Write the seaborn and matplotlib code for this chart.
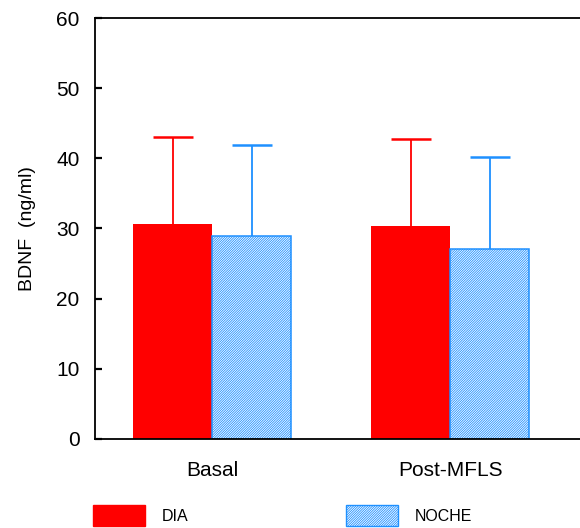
import pandas as pd
import seaborn as sns
import matplotlib.pyplot as plt
from matplotlib.patches import Patch

# datos
condiciones = ['Basal', 'Post-MFLS']
grupos = ['DIA', 'NOCHE']
media_dia = [30.7, 30.3]
media_noche = [29.0, 27.1]
de_dia = [12.4, 12.45]
de_noche = [12.9, 13.1]

rojo = '#FF0000'
azul = '#1E90FF'
trama = '/' * 14

df = pd.DataFrame({
    'condicion': condiciones * 2,
    'grupo': [grupos[0]] * 2 + [grupos[1]] * 2,
    'bdnf': media_dia + media_noche,
})

sns.set_style('white')
plt.rcParams['font.family'] = ['Liberation Sans', 'DejaVu Sans']
plt.rcParams['text.color'] = 'black'
plt.rcParams['axes.labelcolor'] = 'black'
plt.rcParams['xtick.color'] = 'black'
plt.rcParams['ytick.color'] = 'black'
plt.rcParams['hatch.color'] = azul
plt.rcParams['hatch.linewidth'] = 0.6

fig = plt.figure(figsize=(5.8, 5.28), dpi=100)
ax = fig.add_axes([0.1638, 0.1686, 0.8362, 0.7973])

sns.barplot(data=df, x='condicion', y='bdnf', hue='grupo', order=condiciones,
            hue_order=grupos, palette=[rojo, 'white'], width=0.664,
            saturation=1, errorbar=None, legend=False, ax=ax)

# barras: primero DIA, luego NOCHE
barras = ax.patches
for b in barras[:2]:
    b.set_edgecolor(rojo)
    b.set_linewidth(0)
for b in barras[2:4]:
    b.set_facecolor('white')
    b.set_edgecolor(azul)
    b.set_hatch(trama)
    b.set_linewidth(1.1)

# barras de error solo hacia arriba
media_cap = 0.084
for bs, medias, des, col in [(barras[:2], media_dia, de_dia, rojo),
                             (barras[2:4], media_noche, de_noche, azul)]:
    xs = [b.get_x() + b.get_width() / 2 for b in bs]
    tops = [m + d for m, d in zip(medias, des)]
    ax.vlines(xs, medias, tops, colors=col, linewidth=1.3, zorder=0.5)
    ax.hlines(tops, [x - media_cap for x in xs], [x + media_cap for x in xs],
              colors=col, linewidth=1.8, zorder=0.5)

ax.set_ylim(0, 60)
ax.set_yticks(range(0, 61, 10))
ax.set_xlim(-0.492, 1.546)
ax.set_xlabel('')
ax.set_ylabel('BDNF  (ng/ml)', fontsize=14, labelpad=15)

for s in ['left', 'bottom', 'top']:
    ax.spines[s].set_visible(True)
    ax.spines[s].set_color('black')
    ax.spines[s].set_linewidth(1.3)
ax.spines['right'].set_visible(False)

ax.tick_params(axis='y', direction='in', length=5, width=1.6, pad=11,
               labelsize=15, left=True)
ax.tick_params(axis='x', length=0, pad=16, labelsize=15)

handles = [Patch(facecolor=rojo, edgecolor=rojo, label='DIA'),
           Patch(facecolor='white', edgecolor=azul, hatch=trama, label='NOCHE')]
fig.legend(handles=handles, loc='center left', bbox_to_anchor=(0.160, 0.024),
           ncol=2, frameon=False, fontsize=11.5, handlelength=3.25,
           handleheight=1.6, handletextpad=1.06, columnspacing=9.9,
           borderpad=0, borderaxespad=0)

fig.savefig('out.png', dpi=100)
